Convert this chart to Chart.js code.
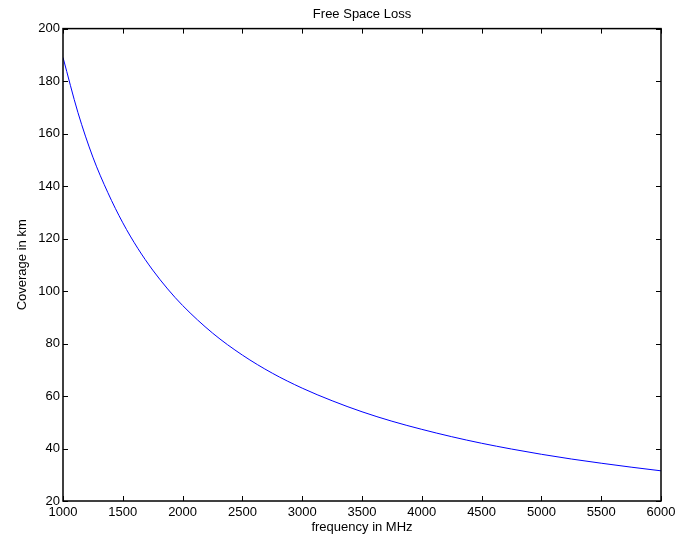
<!DOCTYPE html>
<html>
<head>
<meta charset="utf-8">
<script src="https://cdn.jsdelivr.net/npm/chart.js@4/dist/chart.umd.min.js"></script>
<style>
  html, body { margin:0; padding:0; background:#fff; }
  #wrap { width:690px; height:535px; }
</style>
</head>
<body>
<div id="wrap"><canvas id="lossChart" width="690" height="535"></canvas></div>
<script>
// valores (frequência em MHz, cobertura em km)
const freqMHz = [1000, 1125, 1250, 1375, 1500, 1625, 1750, 1875, 2000, 2250, 2500, 2750, 3000, 3250, 3500, 3750, 4000, 4250, 4500, 4750, 5000, 5250, 5500, 5750, 6000];
const coverageKm = [189, 168, 151, 137.5, 126, 116.3, 108, 100.8, 94.5, 84, 75.6, 68.7, 63, 58.2, 54, 50.4, 47.3, 44.5, 42, 39.8, 37.8, 36, 34.4, 32.9, 31.5];
const xTicks = [1000, 1500, 2000, 2500, 3000, 3500, 4000, 4500, 5000, 5500, 6000];
const yTicks = [20, 40, 60, 80, 100, 120, 140, 160, 180, 200];

const fontFam = "'Liberation Sans', Arial, Helvetica, sans-serif";

// moldura + ticks para dentro (estilo matlab)
const boxPlugin = {
    id: 'boxTicks',
    afterDraw(chart){
        const ctx = chart.ctx;
        const a = chart.chartArea;
        const xs = chart.scales.x, ys = chart.scales.y;
        const tl = 5;
        ctx.save();
        ctx.strokeStyle = '#000';
        ctx.lineWidth = 1;
        ctx.beginPath();
        xTicks.forEach(v=>{
            const px = Math.round(xs.getPixelForValue(v)) + 0.5;
            ctx.moveTo(px, a.bottom); ctx.lineTo(px, a.bottom - tl);
            ctx.moveTo(px, a.top); ctx.lineTo(px, a.top + tl);
        });
        yTicks.forEach(v=>{
            const py = Math.round(ys.getPixelForValue(v)) + 0.5;
            ctx.moveTo(a.left, py); ctx.lineTo(a.left + tl, py);
            ctx.moveTo(a.right, py); ctx.lineTo(a.right - tl, py);
        });
        ctx.stroke();
        ctx.lineWidth = 1.5;
        ctx.strokeRect(a.left, a.top, a.right - a.left, a.bottom - a.top);
        ctx.restore();
    }
};

const points = freqMHz.map((f, i)=>({ x: f, y: coverageKm[i] }));

new Chart(document.getElementById('lossChart').getContext('2d'), {
    type: 'line',
    data: {
        datasets: [{
            data: points,
            borderColor: '#0000ff',
            borderWidth: 1,
            pointRadius: 0,
            fill: false,
            tension: 0.4,
            cubicInterpolationMode: 'monotone'
        }]
    },
    options: {
        responsive: false,
        animation: false,
        layout: { padding: { left: 0, right: 29, top: 0, bottom: 0 } },
        plugins: {
            legend: { display: false },
            tooltip: { enabled: false },
            title: {
                display: true,
                fullSize: false,
                text: 'Free Space Loss',
                color: '#000',
                font: { family: fontFam, size: 13, weight: 'normal' },
                padding: { top: 7, bottom: 6 }
            }
        },
        scales: {
            x: {
                type: 'linear',
                min: 1000, max: 6000,
                afterBuildTicks(s){ s.ticks = xTicks.map(v=>({ value: v })); },
                afterFit(s){ s.height = 34; },
                grid: { display: false, drawTicks: false },
                border: { display: false },
                ticks: { color: '#000', padding: 4, maxRotation: 0, font: { family: fontFam, size: 13 },
                         callback: v => String(v) },
                title: {
                    display: true, text: 'frequency in MHz', color: '#000',
                    font: { family: fontFam, size: 13 }, padding: { top: 0, bottom: 0 }
                }
            },
            y: {
                min: 20, max: 200,
                afterBuildTicks(s){ s.ticks = yTicks.map(v=>({ value: v })); },
                afterFit(s){ s.width = 63; },
                grid: { display: false, drawTicks: false },
                border: { display: false },
                ticks: { color: '#000', padding: 3, font: { family: fontFam, size: 13 },
                         callback: v => String(v) },
                title: {
                    display: true, text: 'Coverage in km', color: '#000',
                    font: { family: fontFam, size: 13 }, padding: { top: 15, bottom: 0 }
                }
            }
        }
    },
    plugins: [boxPlugin]
});
</script>
</body>
</html>
